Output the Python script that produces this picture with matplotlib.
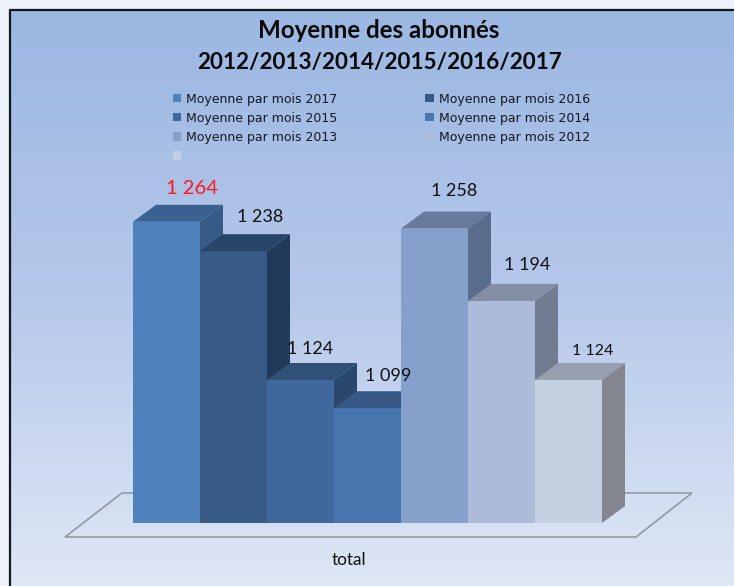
import matplotlib
matplotlib.use("Agg")
import matplotlib.pyplot as plt
from matplotlib.patches import Patch, Polygon
from matplotlib.colors import LinearSegmentedColormap
import numpy as np

# donnees
series = ['Moyenne par mois 2017', 'Moyenne par mois 2016', 'Moyenne par mois 2015',
          'Moyenne par mois 2014', 'Moyenne par mois 2013', 'Moyenne par mois 2012', '']
values = [1264, 1238, 1124, 1099, 1258, 1194, 1124]
category = 'total'

front_colors = ['#4F81BD', '#375A87', '#3F699C', '#4A76AF', '#84A0CB', '#ADBAD8', '#C4CFE2']
top_colors = ['#3B6190', '#274469', '#2F5178', '#365885', '#677B9C', '#848FA6', '#989FAE']
side_colors = ['#375A87', '#223A5A', '#2A486D', '#31507A', '#596C8C', '#717C90', '#83858F']

label_sizes = [14.5, 13, 13, 13, 13, 13, 11.5]
label_colors = ['#FF1A1A', '#111111', '#111111', '#111111', '#111111', '#111111', '#111111']
label_dx = [26, 27, 10, 21, 20, 26, 24]   # pixels, depuis le centre de la barre
label_dy = [33, 34, 31, 32, 38, 36, 29]   # pixels, au dessus de la barre

W, H = 734, 586
bar_px = 67
left_px = 133
base_px = 523
px_per_unit = 1.13
ref_value, ref_px = 1124, 380
depth_x, depth_y = 23, 17

fig = plt.figure(figsize=(W / 100, H / 100), dpi=100, facecolor='#EEF2FB')

# fond en pixels
bg = fig.add_axes([0, 0, 1, 1])
bg.set_xlim(0, W)
bg.set_ylim(H, 0)
bg.axis('off')
cmap = LinearSegmentedColormap.from_list('fond', ['#9BB7E2', '#B6C8EA', '#DEE7F4'])
grad = np.linspace(0, 1, 256).reshape(-1, 1)
bg.imshow(grad, cmap=cmap, aspect='auto', extent=(11, W, H, 10), zorder=0)
bg.set_xlim(0, W)
bg.set_ylim(H, 0)
bg.plot([10, 10, W], [H, 9.5, 9.5], color='#101820', lw=1.6, zorder=1)

# plancher
bg.add_patch(Polygon([(65, 537), (122, 493), (692, 493), (636, 537)], closed=True,
                     fc='none', ec='#8E949E', lw=1.1, zorder=1))

bg.text(379, 31, 'Moyenne des abonnés', family='Lato', weight='bold', fontsize=17.4,
        color='#0A0A0A', ha='center', va='center')
bg.text(379, 63, '2012/2013/2014/2015/2016/2017', family='Lato', weight='bold', fontsize=16.2,
        color='#0A0A0A', ha='center', va='center')
bg.text(349, 560, category, family='Lato', fontsize=12.4, color='#111111', ha='center', va='center')

# barres : x en rang de barre, y en valeur
ax = fig.add_axes([0, 0, 1, 1])
ax.patch.set_alpha(0)
ax.axis('off')
ax.set_xlim(-left_px / bar_px, (W - left_px) / bar_px)
ax.set_ylim(ref_value + (ref_px - H) / px_per_unit, ref_value + ref_px / px_per_unit)
base = ref_value + (ref_px - base_px) / px_per_unit
dx = depth_x / bar_px
dy = depth_y / px_per_unit

for i, v in enumerate(values):
    ax.bar(i, v - base, bottom=base, width=1, align='edge', color=front_colors[i], lw=0, zorder=3 + i)
    ax.fill([i, i + 1, i + 1 + dx, i + dx], [v, v, v + dy, v + dy],
            color=top_colors[i], lw=0, zorder=3 + i)
    ax.fill([i + 1, i + 1 + dx, i + 1 + dx, i + 1], [base, base + dy, v + dy, v],
            color=side_colors[i], lw=0, zorder=3 + i)
    ax.text(i + 0.5 + label_dx[i] / bar_px, v + label_dy[i] / px_per_unit,
            f'{v:,}'.replace(',', ' '), family='Lato', fontsize=label_sizes[i],
            color=label_colors[i], ha='center', va='center', zorder=20)

# legende sur deux colonnes, remplies colonne par colonne
handles = [Patch(fc=c, ec='none') for c in front_colors]
order = [0, 2, 4, 6, 1, 3, 5]
leg = ax.legend([handles[k] for k in order], [series[k] for k in order], ncols=2,
                loc='upper left', bbox_to_anchor=(173 / W, 1 - 92.5 / H), bbox_transform=fig.transFigure,
                frameon=False, borderpad=0, borderaxespad=0,
                prop={'family': 'DejaVu Sans', 'size': 9.0},
                handlelength=0.66, handleheight=0.66, handletextpad=0.42,
                labelspacing=0.49, columnspacing=7.0, labelcolor='#14181F')
leg.set_zorder(30)

plt.savefig('out.png', dpi=100)
